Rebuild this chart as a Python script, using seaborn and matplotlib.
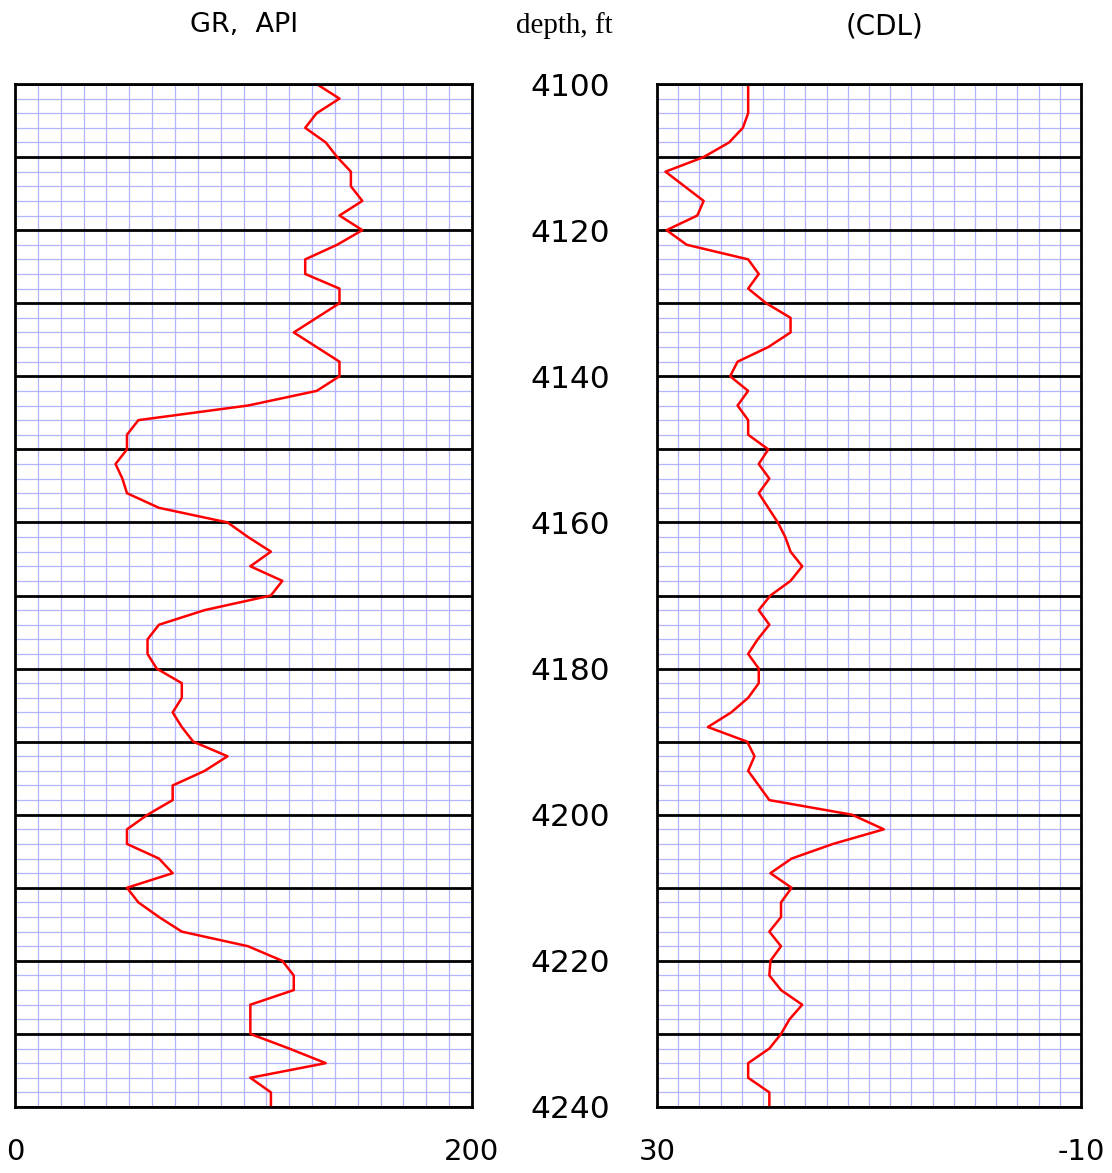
import matplotlib
matplotlib.use('Agg')
import matplotlib.pyplot as plt
from matplotlib.ticker import MultipleLocator
import seaborn as sns
import numpy as np

sns.set_style('white')
plt.rcParams['font.family'] = ['DejaVu Sans']
plt.rcParams['axes.unicode_minus'] = False
plt.rcParams['text.color'] = 'black'
plt.rcParams['xtick.color'] = 'black'
plt.rcParams['ytick.color'] = 'black'

# depth samples every 2 ft
depth = list(range(4100, 4241, 2))

gr = [132, 142, 132, 127, 136, 141, 147, 147, 152, 142,
      152, 141, 127, 127, 142, 142, 132, 122, 132, 142,
      142, 132, 102, 54, 49, 49, 44, 47, 49, 63,
      93, 102, 112, 103, 117, 112, 83, 63, 58, 58,
      62, 73, 73, 69, 73, 78, 93, 83, 69, 69,
      58, 49, 49, 63, 69, 49, 54, 63, 73, 102,
      117, 122, 122, 103, 103, 103, 120, 136, 103, 112,
      112]

cdl = [21.4, 21.4, 21.4, 21.9, 23.2, 25.6, 29.2, 27.4, 25.6, 26.2,
       29.1, 27.2, 21.4, 20.4, 21.4, 19.7, 17.4, 17.4, 19.5, 22.4,
       23.1, 21.4, 22.4, 21.4, 21.4, 19.5, 20.4, 19.4, 20.4, 19.5,
       18.6, 17.9, 17.4, 16.3, 17.4, 19.3, 20.4, 19.4, 20.5, 21.4,
       20.4, 20.4, 21.4, 23.0, 25.2, 21.5, 20.8, 21.4, 20.4, 19.4,
       11.6, 8.6, 13.4, 17.3, 19.3, 17.3, 18.3, 18.3, 19.4, 18.3,
       19.3, 19.4, 18.3, 16.3, 17.5, 18.3, 19.4, 21.4, 21.4, 19.4,
       19.4]

depth_labels = ['4100', '', '4120', '', '4140', '', '4160', '', '4180', '',
                '4200', '', '4220', '', '4240']

fig = plt.figure(figsize=(11.12, 11.73), dpi=100)
ax1 = fig.add_axes([15 / 1112, 66 / 1173, 457 / 1112, 1023 / 1173])
ax2 = fig.add_axes([657 / 1112, 66 / 1173, 424 / 1112, 1023 / 1173])

sns.lineplot(x=gr, y=depth, orient='y', sort=False, estimator=None,
             color='red', linewidth=1.8, ax=ax1)
sns.lineplot(x=cdl, y=depth, orient='y', sort=False, estimator=None,
             color='red', linewidth=1.8, ax=ax2)

ax1.set_xlim(0, 200)
ax2.set_xlim(30, -10)
ax1.set_xticks([0, 200])
ax2.set_xticks([30, -10])
ax1.xaxis.set_minor_locator(MultipleLocator(10))
ax2.xaxis.set_minor_locator(MultipleLocator(2))

for ax in (ax1, ax2):
    ax.set_ylim(4240, 4100)
    ax.set_yticks(range(4100, 4241, 10))
    ax.yaxis.set_minor_locator(MultipleLocator(2))
    ax.set_axisbelow(True)
    ax.grid(which='minor', color='#b4b4ff', linewidth=0.9)
    ax.grid(axis='y', which='major', color='black', linewidth=2.0)
    ax.grid(axis='x', which='major', visible=False)
    ax.tick_params(which='both', length=0)
    ax.tick_params(axis='x', labelsize=21, pad=22)
    ax.set_xlabel('')
    ax.set_ylabel('')
    for s in ax.spines.values():
        s.set_visible(True)
        s.set_color('black')
        s.set_linewidth(2.0)

ax1.set_yticklabels([])
ax2.set_yticklabels(depth_labels)
ax2.tick_params(axis='y', labelsize=22.5, pad=34)

fig.text(244 / 1112, 1 - 25 / 1173, 'GR,  API', ha='center', va='center', fontsize=19.5)
fig.text(564 / 1112, 1 - 26 / 1173, 'depth, ft', ha='center', va='center',
         fontsize=21, family='Liberation Serif')
fig.text(884 / 1112, 1 - 27 / 1173, '(CDL)', ha='center', va='center', fontsize=20)

fig.savefig('out.png', dpi=100)
